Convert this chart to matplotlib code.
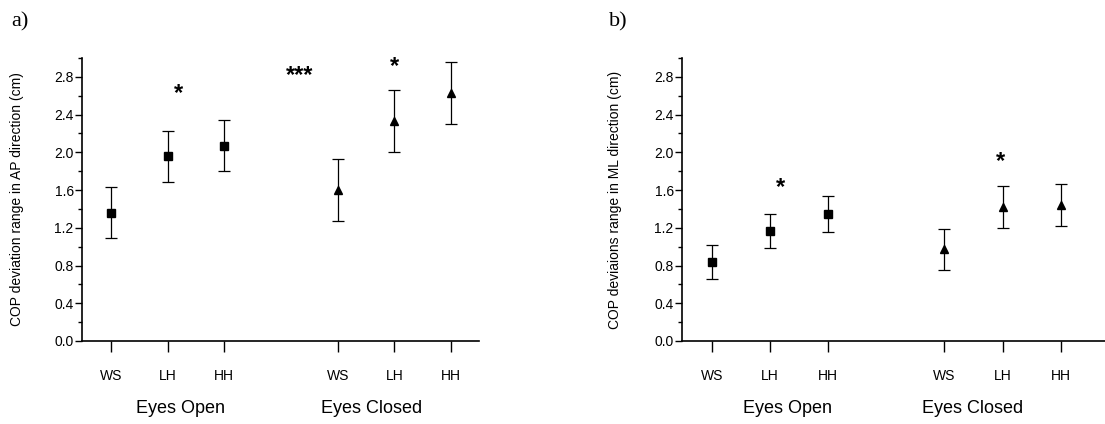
import matplotlib.pyplot as plt
from matplotlib.ticker import MultipleLocator
import matplotlib.transforms as mtransforms

plt.rcParams['font.family'] = ['Liberation Sans', 'DejaVu Sans']

# categories
conditions = ['WS', 'LH', 'HH']
groups = ['Eyes Open', 'Eyes Closed']

# panel a: AP direction (mean, error)
ap_open = [1.36, 1.96, 2.07]
ap_open_err = [0.27, 0.27, 0.27]
ap_closed = [1.60, 2.33, 2.63]
ap_closed_err = [0.33, 0.33, 0.33]

# panel b: ML direction
ml_open = [0.84, 1.17, 1.35]
ml_open_err = [0.18, 0.18, 0.19]
ml_closed = [0.97, 1.42, 1.44]
ml_closed_err = [0.22, 0.22, 0.22]

# significance marks: (x, y, text)
ap_marks = [(2.19, 2.62, '*'), (4.32, 2.81, '***'), (6.0, 2.91, '*')]
ml_marks = [(2.19, 1.63, '*'), (5.97, 1.90, '*')]

x_open = [1, 2, 3]
x_closed = [5, 6, 7]


def draw_panel(ax, open_vals, open_err, closed_vals, closed_err, marks, ylabel, xlim, group_x, ylabel_x):
    kw = dict(color='black', ecolor='black', elinewidth=0.9, capsize=4, capthick=0.9, linestyle='none')
    ax.errorbar(x_open, open_vals, yerr=open_err, marker='s', markersize=6, **kw)
    ax.errorbar(x_closed, closed_vals, yerr=closed_err, marker='^', markersize=6, **kw)

    for x, y, t in marks:
        ax.text(x, y, t, ha='center', va='center', fontsize=17, fontweight='bold')

    ax.set_xlim(*xlim)
    ax.set_ylim(0, 3.0)
    ax.set_xticks(x_open + x_closed)
    ax.set_xticklabels(conditions + conditions, fontsize=10)
    ax.yaxis.set_major_locator(MultipleLocator(0.4))
    ax.yaxis.set_minor_locator(MultipleLocator(0.2))
    ax.set_yticks([0.0, 0.4, 0.8, 1.2, 1.6, 2.0, 2.4, 2.8])
    ax.yaxis.set_major_formatter(plt.FuncFormatter(lambda v, p: f'{v:.1f}'))
    ax.tick_params(axis='y', which='major', length=5, width=1, labelsize=10, pad=1)
    ax.tick_params(axis='y', which='minor', length=3, width=1)
    ax.tick_params(axis='x', which='major', length=8, width=1, pad=12)
    ax.spines['top'].set_visible(False)
    ax.spines['right'].set_visible(False)
    ax.spines['left'].set_linewidth(1.2)
    ax.spines['bottom'].set_linewidth(1.2)

    ax.set_ylabel(ylabel, fontsize=10)
    ax.yaxis.set_label_coords(ylabel_x, 0.5)

    trans = mtransforms.blended_transform_factory(ax.transData, ax.transAxes)
    for gx, g in zip(group_x, groups):
        ax.text(gx, -0.24, g, transform=trans, ha='center', va='center', fontsize=13)


W, H = 1105, 424
fig = plt.figure(figsize=(W / 100, H / 100), dpi=100)

ax1 = fig.add_axes([82 / W, (H - 341) / H, (479 - 82) / W, (341 - 58) / H])
draw_panel(ax1, ap_open, ap_open_err, ap_closed, ap_closed_err, ap_marks,
           'COP deviation range in AP direction (cm)', (0.49, 7.49), [2.23, 5.6], -0.146)

ax2 = fig.add_axes([682 / W, (H - 341) / H, (1112 - 682) / W, (341 - 58) / H])
draw_panel(ax2, ml_open, ml_open_err, ml_closed, ml_closed_err, ml_marks,
           'COP deviaions range in ML direction (cm)', (0.49, 0.49 + 430 / 58.2), [2.3, 5.48], -0.14)

fig.text(11 / W, 1 - 22 / H, 'a)', family='Liberation Serif', fontsize=16, va='center', ha='left')
fig.text(609 / W, 1 - 22 / H, 'b)', family='Liberation Serif', fontsize=16, va='center', ha='left')

fig.savefig('out.png', dpi=100)
